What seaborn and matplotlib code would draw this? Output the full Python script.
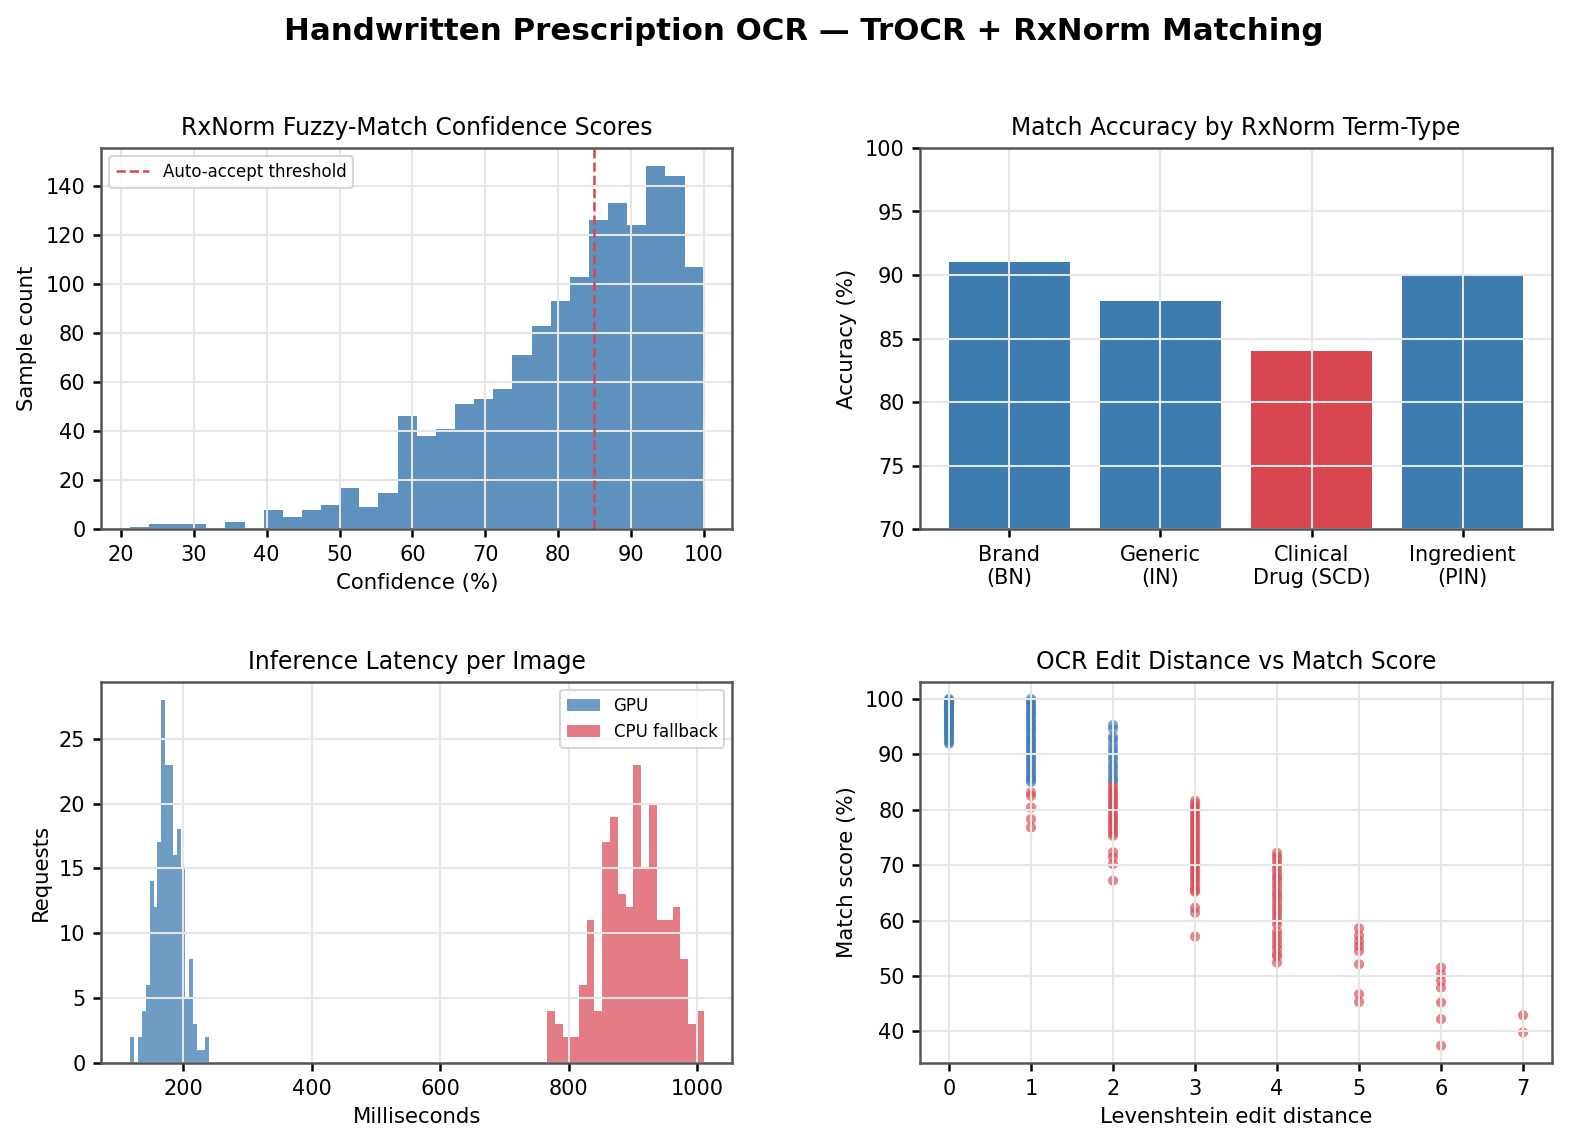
import numpy as np
import pandas as pd
import seaborn as sns
import matplotlib.pyplot as plt

BLUE = "#3d7bb1"
RED = "#d8464f"

# --- confidence histogram (30 bins, 21.2 .. 100) ---
conf_counts = [1, 2, 2, 2, 0, 3, 0, 8, 5, 8, 10, 17, 9, 15, 46, 38, 41, 51, 53, 57,
               71, 83, 93, 103, 126, 133, 124, 148, 144, 107]
conf_range = (21.2, 100.0)
threshold = 85

# --- accuracy by term type ---
term_types = ["Brand\n(BN)", "Generic\n(IN)", "Clinical\nDrug (SCD)", "Ingredient\n(PIN)"]
term_acc = [91.0, 88.0, 84.0, 90.0]

# --- latency histograms (20 bins each) ---
gpu_counts = [2, 0, 2, 4, 6, 14, 12, 17, 28, 23, 23, 16, 18, 15, 5, 8, 3, 1, 1, 2]
gpu_range = (116.8, 240.1)
cpu_counts = [4, 3, 2, 2, 6, 11, 4, 17, 19, 13, 12, 23, 15, 20, 11, 11, 12, 8, 3, 4]
cpu_range = (767.2, 1010.6)

# --- edit distance vs match score ---
score_d0 = [100, 99.8, 99.5, 99.3, 99.0, 98.7, 98.6, 98.2, 97.9, 97.8, 97.4, 97.1, 96.9, 96.5,
            96.2, 96.0, 95.6, 95.3, 95.1, 94.7, 94.4, 94.2, 93.8, 93.5, 93.1, 92.6, 92.2, 91.9]
score_d1 = [100, 99.6, 99.1, 98.7, 98.2, 97.6, 97.3, 96.8, 96.2, 95.9, 95.3, 94.8, 94.4, 93.9,
            93.3, 92.8, 92.5, 91.9, 91.4, 90.9, 90.5, 89.9, 89.4, 88.9, 88.4, 87.8, 87.4, 86.9,
            86.3, 85.8, 85.4, 85.0, 83.1, 82.5, 80.4, 78.3, 76.8]
score_d2 = [95.3, 94.6, 93.2, 92.7, 91.8, 91.0, 90.3, 89.6, 88.9, 88.1, 87.5, 86.8, 86.1, 85.5,
            85.1, 84.3, 83.7, 83.1, 82.6, 82.0, 81.4, 80.9, 80.3, 79.8, 79.2, 78.6, 78.1, 77.5,
            77.0, 76.4, 75.8, 75.3, 72.3, 71.4, 70.2, 67.2]
score_d3 = [81.6, 81.0, 80.4, 79.9, 79.3, 78.7, 78.2, 77.6, 77.0, 76.5, 75.9, 75.3, 74.8, 74.2,
            73.6, 73.1, 72.5, 71.9, 71.4, 70.8, 70.2, 69.7, 69.1, 68.5, 67.9, 67.4, 66.8, 66.1,
            65.5, 65.2, 62.3, 61.4, 57.1]
score_d4 = [72.2, 71.5, 70.9, 70.1, 69.4, 68.6, 67.9, 67.3, 66.5, 65.8, 65.0, 64.4, 63.7, 62.9,
            62.2, 61.5, 60.8, 60.0, 59.3, 58.0, 57.2, 56.4, 55.6, 54.9, 54.0, 53.5, 52.4]
score_d5 = [58.6, 57.3, 56.3, 55.4, 54.5, 52.1, 46.7, 45.3]
score_d6 = [51.5, 50.3, 49.1, 47.9, 45.2, 42.2, 37.4]
score_d7 = [42.9, 39.8]

plt.rcParams.update({
    "axes.edgecolor": "#555555",
    "axes.linewidth": 1.2,
    "xtick.major.size": 4,
    "ytick.major.size": 4,
    "xtick.major.width": 1.2,
    "ytick.major.width": 1.2,
    "xtick.labelsize": 10,
    "ytick.labelsize": 10,
    "axes.labelsize": 10.2,
    "axes.titlesize": 11.3,
})


def centers(counts, rng):
    edges = np.linspace(rng[0], rng[1], len(counts) + 1)
    return (edges[:-1] + edges[1:]) / 2


def style(ax):
    ax.grid(True, color="#e6e6e6", linewidth=1.0)
    ax.set_axisbelow("line")


fig, axes = plt.subplots(2, 2, figsize=(10.46, 7.647), dpi=150)
fig.subplots_adjust(left=0.0644, right=0.989, top=0.871, bottom=0.0732, wspace=0.2975, hspace=0.399)
fig.suptitle("Handwritten Prescription OCR — TrOCR + RxNorm Matching",
             fontsize=14.8, fontweight="bold", x=0.512, y=0.985)

# top-left: confidence histogram
ax = axes[0, 0]
sns.histplot(x=centers(conf_counts, conf_range), weights=conf_counts, bins=len(conf_counts),
             binrange=conf_range, color=BLUE, alpha=0.83, linewidth=0, ax=ax)
ax.axvline(threshold, color=RED, linestyle="--", linewidth=1.2, label="Auto-accept threshold")
ax.legend(loc="upper left", fontsize=8)
ax.set_title("RxNorm Fuzzy-Match Confidence Scores")
ax.set_xlabel("Confidence (%)")
ax.set_ylabel("Sample count")
style(ax)

# top-right: accuracy by term type
ax = axes[0, 1]
acc_df = pd.DataFrame({"term": term_types, "acc": term_acc})
bar_colors = [RED if t.startswith("Clinical") else BLUE for t in term_types]
sns.barplot(data=acc_df, x="term", y="acc", hue="term", palette=bar_colors,
            saturation=1, width=0.8, legend=False, ax=ax)
ax.set_ylim(70, 100)
ax.set_xlim(-0.59, 3.59)
ax.set_title("Match Accuracy by RxNorm Term-Type")
ax.set_xlabel("")
ax.set_ylabel("Accuracy (%)")
style(ax)

# bottom-left: latency
ax = axes[1, 0]
sns.histplot(x=centers(gpu_counts, gpu_range), weights=gpu_counts, bins=len(gpu_counts),
             binrange=gpu_range, color=BLUE, alpha=0.75, linewidth=0, label="GPU", ax=ax)
sns.histplot(x=centers(cpu_counts, cpu_range), weights=cpu_counts, bins=len(cpu_counts),
             binrange=cpu_range, color=RED, alpha=0.7, linewidth=0, label="CPU fallback", ax=ax)
ax.legend(loc="upper right", fontsize=8)
ax.set_title("Inference Latency per Image")
ax.set_xlabel("Milliseconds")
ax.set_ylabel("Requests")
style(ax)

# bottom-right: scatter
ax = axes[1, 1]
groups = [score_d0, score_d1, score_d2, score_d3, score_d4, score_d5, score_d6, score_d7]
sc_df = pd.DataFrame({
    "dist": np.concatenate([[d] * len(g) for d, g in enumerate(groups)]),
    "score": np.concatenate(groups),
})
sc_df["ok"] = sc_df["score"] >= threshold
sns.scatterplot(data=sc_df, x="dist", y="score", hue="ok", palette={True: BLUE, False: RED},
                s=24, alpha=0.65, linewidth=0, legend=False, ax=ax)
ax.set_title("OCR Edit Distance vs Match Score")
ax.set_xlabel("Levenshtein edit distance")
ax.set_ylabel("Match score (%)")
ax.set_xticks(range(8))
style(ax)

fig.savefig("out.png", dpi=150)
